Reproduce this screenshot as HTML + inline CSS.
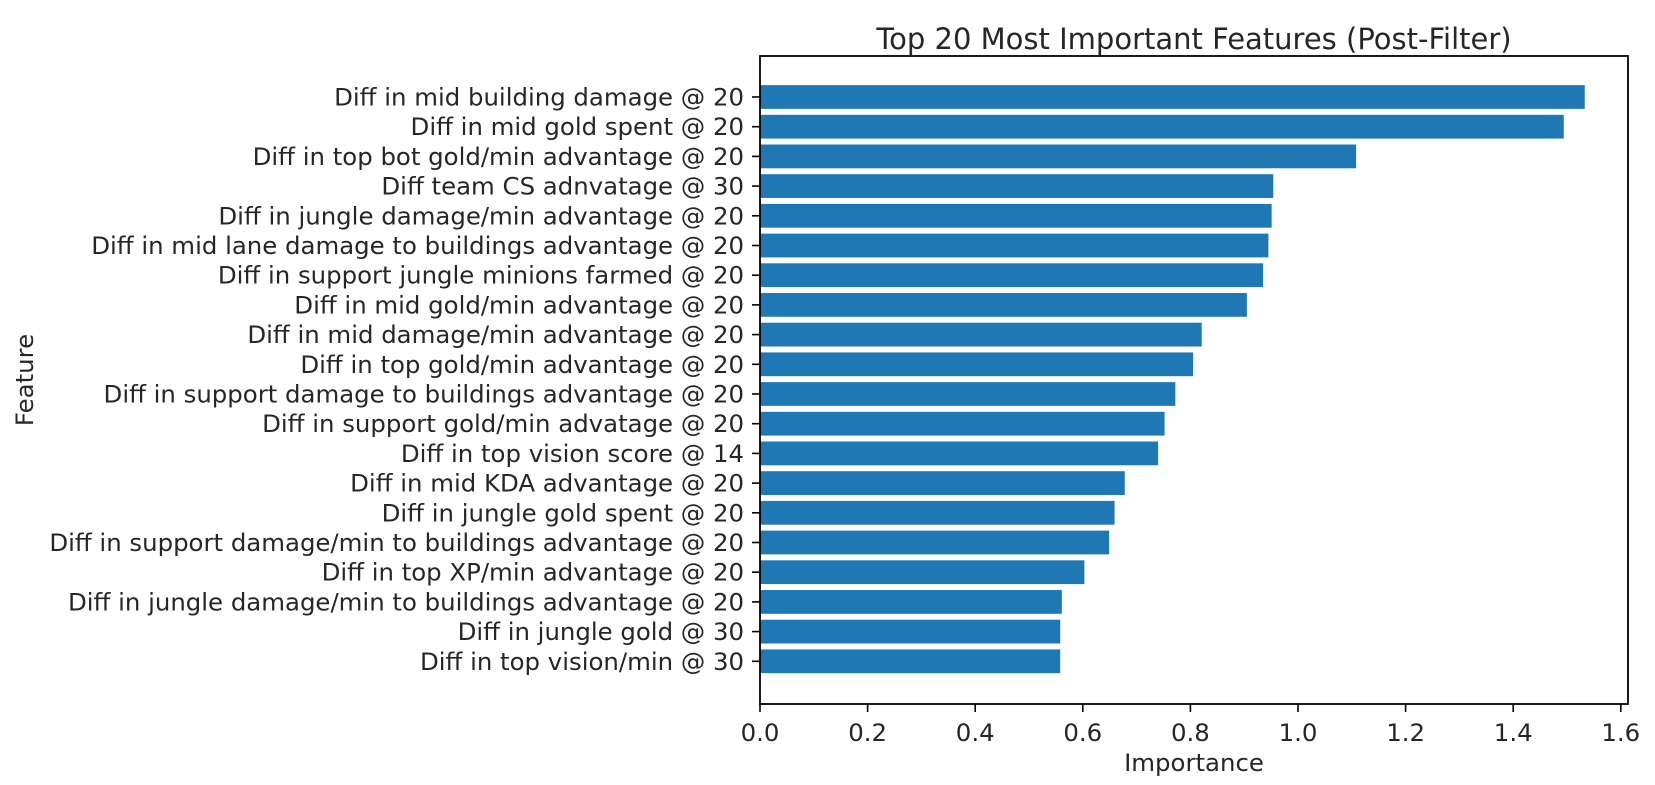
<!DOCTYPE html>
<html><head><meta charset="utf-8"><style>
html,body{margin:0;padding:0;background:#fff;}
svg text{font-family:"DejaVu Sans","Liberation Sans",sans-serif;fill:#262626;}
</style></head>
<body>
<svg id="chart" width="1655" height="780" xmlns="http://www.w3.org/2000/svg">
<rect width="1655" height="780" fill="#fff"/>
<text x="1194" y="49" text-anchor="middle" font-size="29">Top 20 Most Important Features (Post-Filter)</text>
<g id="bars"></g>
<g id="yticks"></g>
<g id="xticks"></g>
<rect x="760" y="56" width="868" height="648" fill="none" stroke="#000" stroke-width="1.8"/>
<text x="1194" y="771" text-anchor="middle" font-size="24.4">Importance</text>
<text transform="translate(33,380) rotate(-90)" text-anchor="middle" font-size="24.4">Feature</text>
</svg>
<script>
const categories = [
"Diff in mid building damage @ 20",
"Diff in mid gold spent @ 20",
"Diff in top bot gold/min advantage @ 20",
"Diff team CS adnvatage @ 30",
"Diff in jungle damage/min advantage @ 20",
"Diff in mid lane damage to buildings advantage @ 20",
"Diff in support jungle minions farmed @ 20",
"Diff in mid gold/min advantage @ 20",
"Diff in mid damage/min advantage @ 20",
"Diff in top gold/min advantage @ 20",
"Diff in support damage to buildings advantage @ 20",
"Diff in support gold/min advatage @ 20",
"Diff in top vision score @ 14",
"Diff in mid KDA advantage @ 20",
"Diff in jungle gold spent @ 20",
"Diff in support damage/min to buildings advantage @ 20",
"Diff in top XP/min advantage @ 20",
"Diff in jungle damage/min to buildings advantage @ 20",
"Diff in jungle gold @ 30",
"Diff in top vision/min @ 30"];
const importance = [1.533,1.494,1.108,0.954,0.951,0.945,0.935,0.905,0.821,0.805,0.772,0.752,0.740,0.678,0.659,0.649,0.603,0.561,0.558,0.558];
const xTicks = [0,0.2,0.4,0.6,0.8,1.0,1.2,1.4,1.6];
const xTickLabels = ["0.0","0.2","0.4","0.6","0.8","1.0","1.2","1.4","1.6"];

const NS="http://www.w3.org/2000/svg";
const X0=760, PXPERUNIT=538, Y0=97, STEP=29.7;
const xScale=v=>X0+v*PXPERUNIT;
const yScale=i=>Y0+i*STEP;
function mk(tag,attrs,parent){const e=document.createElementNS(NS,tag);for(const k in attrs)e.setAttribute(k,attrs[k]);parent.appendChild(e);return e;}
const gb=document.getElementById('bars'), gy=document.getElementById('yticks'), gx=document.getElementById('xticks');
const bh=STEP*0.8;
importance.forEach((v,i)=>{
  const r=mk('rect',{x:xScale(0),y:yScale(i)-bh/2,width:xScale(v)-xScale(0),height:bh,fill:'#1f77b4'},gb);
  
  
  const t=mk('line',{x1:X0-8,x2:X0,y1:yScale(i),y2:yScale(i),stroke:'#000','stroke-width':1.6},gy);
  
  
  const l=mk('text',{x:X0-16,y:yScale(i)+8.5,'text-anchor':'end','font-size':24.4},gy);
  l.textContent=categories[i];
  
  
});
xTicks.forEach((v,i)=>{
  const t=mk('line',{x1:xScale(v),x2:xScale(v),y1:704,y2:712,stroke:'#000','stroke-width':1.6},gx);
  
  
  const l=mk('text',{x:xScale(v),y:741,'text-anchor':'middle','font-size':24.4},gx);
  l.textContent=xTickLabels[i];
  
  
});
</script>
</body></html>
